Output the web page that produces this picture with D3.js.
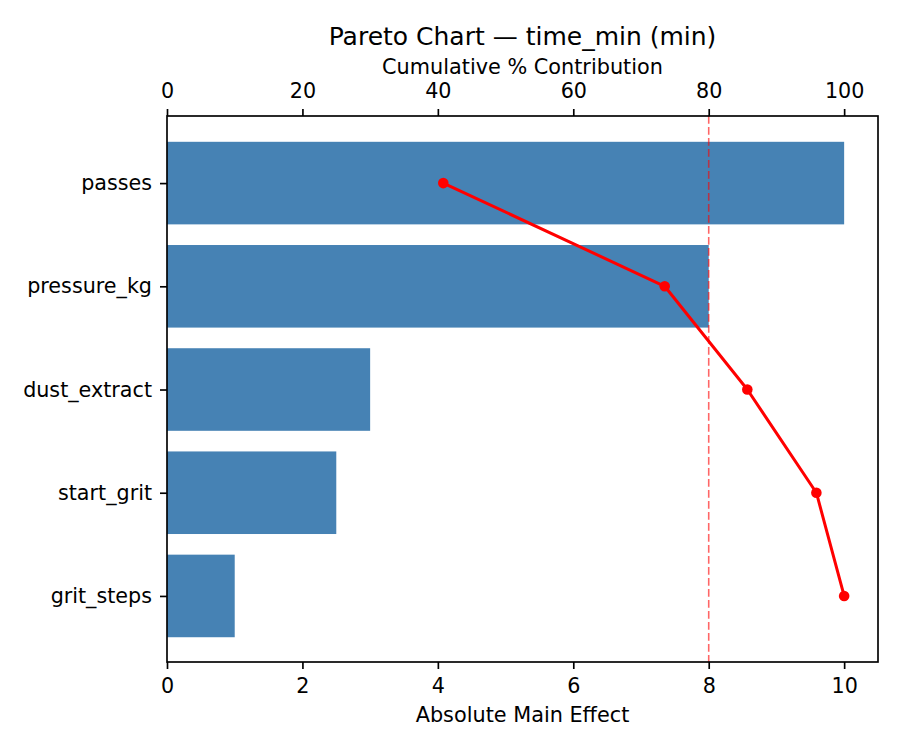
<!DOCTYPE html>
<html>
<head>
<meta charset="utf-8">
<script src="https://cdn.jsdelivr.net/npm/d3@7"></script>
<style>
  body { margin: 0; background: #fff; }
  svg text { font-family: "DejaVu Sans", sans-serif; fill: #000; }
</style>
</head>
<body>
<svg id="canvas"></svg>
<script>
// Pareto chart: bars for effect size, red line for cumulative %

let factors = ['passes', 'pressure_kg', 'dust_extract', 'start_grit', 'grit_steps']
let effects = [10, 8, 3, 2.5, 1]                 // absolute main effect
let cumulative = [40.8, 73.5, 85.7, 95.9, 100]   // cumulative % contribution
let bottomTicks = [0, 2, 4, 6, 8, 10]
let topTicks = [0, 20, 40, 60, 80, 100]
let threshold = 80

//Dimensions
let width = 900
let height = 750
let plotLeft = 167
let plotRight = 878
let plotTop = 116
let plotBottom = 662

let xScale        // bottom axis, effect
let pctScale      // top axis, percent
let yScale        // factor index

let svg = d3.select('#canvas')
            .attr('width', width)
            .attr('height', height)

let generateScales = () => {
    xScale = d3.scaleLinear()
               .domain([0, 10.5])
               .range([plotLeft, plotRight])

    pctScale = d3.scaleLinear()
                 .domain([0, 105])
                 .range([plotLeft, plotRight])

    // matplotlib style margins round the bars
    yScale = d3.scaleLinear()
               .domain([-0.65, factors.length - 1 + 0.64])
               .range([plotTop, plotBottom])
}

let drawBars = () => {
    svg.append('g')
       .selectAll('rect')
       .data(effects)
       .enter()
       .append('rect')
       .attr('x', xScale(0))
       .attr('y', (d, i) => yScale(i - 0.4))
       .attr('width', (d) => xScale(d) - xScale(0))
       .attr('height', (d, i) => yScale(i + 0.4) - yScale(i - 0.4))
       .style('fill', '#4682b4')
}

let drawCumulative = () => {
    // 80% guide
    svg.append('line')
       .attr('x1', pctScale(threshold))
       .attr('x2', pctScale(threshold))
       .attr('y1', plotTop)
       .attr('y2', plotBottom)
       .style('stroke', '#ff0000')
       .style('stroke-opacity', 0.6)
       .style('stroke-width', 1.6)
       .style('stroke-dasharray', '7.7,3.3')

    let line = d3.line()
                 .x((d) => pctScale(d))
                 .y((d, i) => yScale(i))

    svg.append('path')
       .datum(cumulative)
       .attr('d', line)
       .style('fill', 'none')
       .style('stroke', '#ff0000')
       .style('stroke-width', 3)
       .style('stroke-linejoin', 'round')

    svg.append('g')
       .selectAll('circle')
       .data(cumulative)
       .enter()
       .append('circle')
       .attr('cx', (d) => pctScale(d))
       .attr('cy', (d, i) => yScale(i))
       .attr('r', 5.3)
       .style('fill', '#ff0000')
}

let styleAxis = (g) => {
    g.select('.domain').remove()
    g.selectAll('.tick line').style('stroke', '#000').style('stroke-width', 1.67)
    g.selectAll('.tick text').style('font-size', '20.7px')
    g.attr('font-family', null).attr('font-size', null)
}

let generateAxes = () => {
    let xAxis = d3.axisBottom(xScale)
                  .tickValues(bottomTicks)
                  .tickFormat(d3.format('d'))
                  .tickSize(7)
                  .tickPadding(9)
    let topAxis = d3.axisTop(pctScale)
                    .tickValues(topTicks)
                    .tickFormat(d3.format('d'))
                    .tickSize(7)
                    .tickPadding(11)
    let yAxis = d3.axisLeft(yScale)
                  .tickValues(d3.range(factors.length))
                  .tickFormat((i) => factors[i])
                  .tickSize(7)
                  .tickPadding(8)

    svg.append('g')
       .attr('id', 'x-axis')
       .attr('transform', `translate(0,${plotBottom})`)
       .call(xAxis)
       .call(styleAxis)

    svg.append('g')
       .attr('id', 'top-axis')
       .attr('transform', `translate(0,${plotTop})`)
       .call(topAxis)
       .call(styleAxis)

    svg.append('g')
       .attr('id', 'y-axis')
       .attr('transform', `translate(${plotLeft},0)`)
       .call(yAxis)
       .call(styleAxis)

    // frame
    svg.append('rect')
       .attr('x', plotLeft)
       .attr('y', plotTop)
       .attr('width', plotRight - plotLeft)
       .attr('height', plotBottom - plotTop)
       .style('fill', 'none')
       .style('stroke', '#000')
       .style('stroke-width', 1.67)
}

//Titles and axis labels
let descriptions = () => {
    let cx = (plotLeft + plotRight) / 2

    svg.append('text')
       .attr('id', 'title')
       .attr('x', cx)
       .attr('y', 45)
       .attr('text-anchor', 'middle')
       .style('font-size', '25px')
       .text('Pareto Chart — time_min (min)')

    svg.append('text')
       .attr('x', cx)
       .attr('y', 74)
       .attr('text-anchor', 'middle')
       .style('font-size', '20.8px')
       .text('Cumulative % Contribution')

    svg.append('text')
       .attr('x', cx)
       .attr('y', 722)
       .attr('text-anchor', 'middle')
       .style('font-size', '20.8px')
       .text('Absolute Main Effect')
}

generateScales()
drawBars()
drawCumulative()
generateAxes()
descriptions()
</script>
</body>
</html>
